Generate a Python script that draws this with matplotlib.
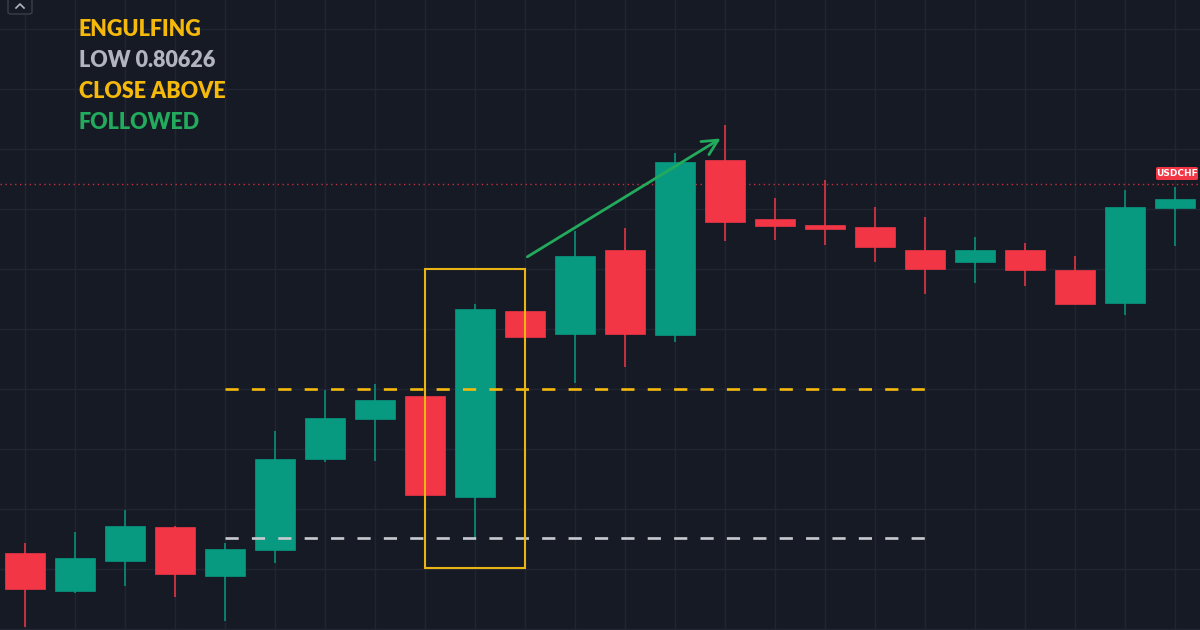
import matplotlib.pyplot as plt
from matplotlib.patches import Rectangle, FancyBboxPatch

# OHLC (USDCHF)
opens  = [0.80613, 0.80582, 0.80607, 0.80635, 0.80594, 0.80616, 0.80692, 0.80725,
          0.80744, 0.80660, 0.80815, 0.80796, 0.80866, 0.80795, 0.80941, 0.80892,
          0.80887, 0.80885, 0.80866, 0.80856, 0.80866, 0.80849, 0.80822, 0.80901]
closes = [0.80583, 0.80609, 0.80636, 0.80596, 0.80617, 0.80692, 0.80726, 0.80741,
          0.80662, 0.80817, 0.80793, 0.80861, 0.80796, 0.80939, 0.80889, 0.80886,
          0.80883, 0.80868, 0.80850, 0.80866, 0.80849, 0.80821, 0.80902, 0.80908]
highs  = [0.80622, 0.80631, 0.80649, 0.80636, 0.80622, 0.80715, 0.80749, 0.80754,
          0.80745, 0.80821, 0.80829, 0.80882, 0.80884, 0.80947, 0.80970, 0.80909,
          0.80924, 0.80902, 0.80893, 0.80877, 0.80872, 0.80861, 0.80916, 0.80918]
lows   = [0.80552, 0.80580, 0.80586, 0.80577, 0.80557, 0.80605, 0.80689, 0.80690,
          0.80661, 0.80626, 0.80769, 0.80755, 0.80768, 0.80789, 0.80873, 0.80874,
          0.80870, 0.80856, 0.80829, 0.80838, 0.80836, 0.80821, 0.80812, 0.80869]

level_high = 0.80750
level_low = 0.80626
last_price = 0.80921
box_range = (8, 10, 0.80601, 0.80850)
arrow_from = (10, 0.80859)
arrow_to = (13.96, 0.80960)

labels = ["ENGULFING", "LOW 0.80626", "CLOSE ABOVE", "FOLLOWED"]
label_colors = ["#f5b90c", "#b2b5be", "#f5b90c", "#22ab5c"]

bg = "#161a25"
grid_c = "#212533"
up_c = "#089981"
down_c = "#f23645"

fig = plt.figure(figsize=(12, 6.3), dpi=100, facecolor=bg)
ax = fig.add_axes([0, 0, 1, 1], facecolor=bg)

n = len(opens)
ax.set_xlim(-0.5, n - 0.5)
ax.set_ylim(0.805492, 0.810742)

for i in range(n):
    ax.axvline(i, color=grid_c, lw=1, zorder=0)
for j in range(11):
    ax.axhline(0.8055 + 0.0005 * j, color=grid_c, lw=1, zorder=0)

for i in range(n):
    o, c, h, l = opens[i], closes[i], highs[i], lows[i]
    col = up_c if c >= o else down_c
    ax.vlines(i, l, h, color=col, lw=1.1, zorder=2)
    ax.add_patch(Rectangle((i - 0.4, min(o, c)), 0.8, abs(c - o),
                           facecolor=col, edgecolor=col, lw=0.5, zorder=3))

# last price line
ax.axhline(last_price, color=down_c, lw=1, ls=(0, (1, 2.5)), alpha=0.8, zorder=1)

# levels
ax.hlines(level_high, 4, 18, color="#f5b90c", lw=1.9, ls=(0, (5, 5)), zorder=4)
ax.hlines(level_low, 4, 18, color="#c8cad0", lw=1.9, ls=(0, (5, 5)), zorder=4)

# engulfing box
x0, x1, y0, y1 = box_range
ax.add_patch(Rectangle((x0, y0), x1 - x0, y1 - y0, fill=False,
                       edgecolor="#e8b515", lw=1.5, zorder=5))

ax.annotate("", xy=arrow_to, xytext=arrow_from,
            arrowprops=dict(arrowstyle="->,head_length=1.1,head_width=0.55",
                            color="#22ab5c", lw=2), zorder=6)

ax.axis("off")

for k, (t, c) in enumerate(zip(labels, label_colors)):
    fig.text(79 / 1200, 1 - (29.5 + 31 * k) / 630, t, color=c, fontsize=15.5,
             fontweight="heavy", family="Lato", va="center", ha="left")

# symbol tag
fig.patches.append(FancyBboxPatch((1156 / 1200, 1 - 180 / 630), 42 / 1200, 13 / 630,
                                  boxstyle="round,pad=0,rounding_size=0.002",
                                  facecolor=down_c, edgecolor="none",
                                  transform=fig.transFigure, figure=fig))
fig.text(1177 / 1200, 1 - 173.5 / 630, "USDCHF", color="white", fontsize=6.5,
         fontweight="bold", ha="center", va="center")

# collapse button top-left
fig.patches.append(FancyBboxPatch((8 / 1200, 1 - 14 / 630), 24 / 1200, 20 / 630,
                                  boxstyle="round,pad=0,rounding_size=0.003",
                                  facecolor=bg, edgecolor="#3a3e4a", lw=1,
                                  transform=fig.transFigure, figure=fig))
fig.lines.append(plt.Line2D([16 / 1200, 20 / 1200, 24 / 1200],
                            [1 - 8 / 630, 1 - 4 / 630, 1 - 8 / 630],
                            color="#b2b5be", lw=1.2, transform=fig.transFigure))

fig.savefig("out.png", dpi=100, facecolor=bg)
